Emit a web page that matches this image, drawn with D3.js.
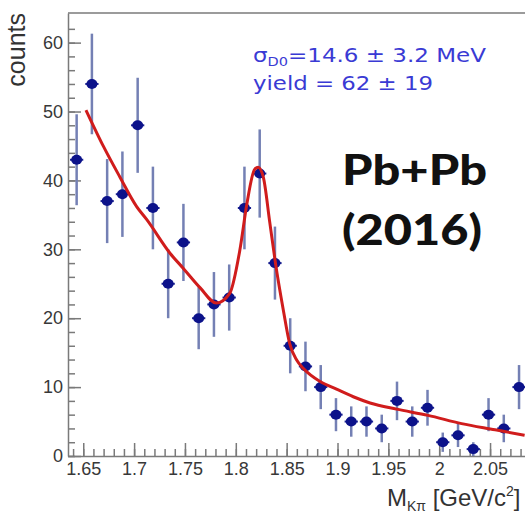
<!DOCTYPE html>
<html>
<head>
<meta charset="utf-8">
<script src="https://cdn.jsdelivr.net/npm/d3@7"></script>
<style>
  body { margin: 0; background: #fff; }
  svg { display: block; }
</style>
</head>
<body>
<svg id="chart"></svg>
<script>
// bin centres of the K-pi invariant mass histogram (GeV/c^2)
const massBins = [1.6435, 1.6585, 1.6735, 1.6885, 1.7035, 1.7185, 1.7335, 1.7485, 1.7635, 1.7785,
                  1.7935, 1.8085, 1.8235, 1.8385, 1.8535, 1.8685, 1.8835, 1.8985, 1.9135, 1.9285,
                  1.9435, 1.9585, 1.9735, 1.9885, 2.0035, 2.0185, 2.0335, 2.0485, 2.0635, 2.0785];
// counts per bin and their error bars
const counts = [43, 54, 37, 38, 48, 36, 25, 31, 20, 22,
                23, 36, 41, 28, 16, 13, 10, 6, 5, 5,
                4, 8, 5, 7, 2, 3, 1, 6, 4, 10];
const countErr = [6.6, 7.3, 6.1, 6.2, 6.9, 6.0, 5.0, 5.6, 4.5, 4.7,
                  4.8, 6.0, 6.4, 5.3, 4.0, 3.6, 3.2, 2.4, 2.2, 2.2,
                  2.0, 2.8, 2.2, 2.6, 1.4, 1.7, 1.0, 2.4, 2.0, 3.2];
const binWidth = 0.015;

// fit curve (background + gaussian)
const fitMass = [1.6527, 1.670, 1.686, 1.7025, 1.7125, 1.7355, 1.748, 1.765, 1.781, 1.794,
                 1.804, 1.811, 1.8185, 1.822, 1.827, 1.8335, 1.839, 1.8467, 1.853, 1.860,
                 1.8665, 1.883, 1.899, 1.9155, 1.932, 1.958, 1.989, 2.022, 2.055, 2.084];
const fitCounts = [50.2, 44.9, 40.5, 36.2, 34.3, 29.4, 27.3, 24.4, 22.2, 23.6,
                   29.9, 36.7, 41.6, 41.9, 40.5, 33.8, 28.0, 21.2, 16.3, 13.9,
                   12.7, 10.8, 9.7, 8.6, 7.7, 6.8, 5.9, 4.7, 3.8, 3.0];

// axis ticks
const xTickValues = [1.65, 1.7, 1.75, 1.8, 1.85, 1.9, 1.95, 2, 2.05];
const yTickValues = [0, 10, 20, 30, 40, 50, 60];

const svgWidth = 525, svgHeight = 513;
const plotLeft = 68, plotTop = 13, plotBottom = 456;

const svg = d3.select("#chart")
  .attr("width", svgWidth)
  .attr("height", svgHeight);

const x = d3.scaleLinear().domain([1.635, 2.1]).range([plotLeft, plotLeft + 0.465 * 1017]);
const y = d3.scaleLinear().domain([0, 64.3]).range([plotBottom, plotTop]);

const axisColor = "#7a7a7a";
const labelFont = "'Liberation Sans', Arial, sans-serif";

// frame (top line)
svg.append("line")
  .attr("x1", plotLeft).attr("x2", svgWidth + 20)
  .attr("y1", plotTop).attr("y2", plotTop)
  .attr("stroke", axisColor).attr("stroke-width", 1.5);

// minor ticks
svg.append("g")
  .attr("transform", "translate(0," + plotBottom + ")")
  .call(d3.axisBottom(x).tickValues(d3.range(1.64, 2.1, 0.01)).tickSizeInner(-7).tickSizeOuter(0).tickFormat(""))
  .call(g => g.selectAll("line").attr("stroke", axisColor).attr("stroke-width", 1.5))
  .call(g => g.select(".domain").remove());

svg.append("g")
  .attr("transform", "translate(" + plotLeft + ",0)")
  .call(d3.axisLeft(y).tickValues(d3.range(0, 64, 2)).tickSizeInner(-7).tickSizeOuter(0).tickFormat(""))
  .call(g => g.selectAll("line").attr("stroke", axisColor).attr("stroke-width", 1.5))
  .call(g => g.select(".domain").remove());

// major ticks + labels
const xAxis = svg.append("g")
  .attr("transform", "translate(0," + plotBottom + ")")
  .call(d3.axisBottom(x).tickValues(xTickValues).tickSizeInner(-13).tickSizeOuter(0)
    .tickPadding(6).tickFormat(d3.format("~g")));
xAxis.select(".domain").attr("stroke", axisColor).attr("stroke-width", 1.5);
xAxis.selectAll("line").attr("stroke", axisColor).attr("stroke-width", 1.5);
xAxis.selectAll("text").attr("font-family", labelFont).attr("font-size", 18).attr("fill", "#383838");

const yAxis = svg.append("g")
  .attr("transform", "translate(" + plotLeft + ",0)")
  .call(d3.axisLeft(y).tickValues(yTickValues).tickSizeInner(-13).tickSizeOuter(0).tickPadding(5));
yAxis.select(".domain").attr("stroke", axisColor).attr("stroke-width", 1.5);
yAxis.selectAll("line").attr("stroke", axisColor).attr("stroke-width", 1.5);
yAxis.selectAll("text").attr("font-family", labelFont).attr("font-size", 18).attr("fill", "#383838");

// y title
svg.append("text")
  .attr("transform", "translate(25," + 13 + ") rotate(-90)")
  .attr("text-anchor", "end")
  .attr("font-family", labelFont)
  .attr("font-size", 25)
  .attr("fill", "#333")
  .text("counts");

// x title
const xTitle = svg.append("text")
  .attr("x", 387).attr("y", 506)
  .attr("font-family", labelFont)
  .attr("font-size", 24)
  .attr("fill", "#333");
xTitle.append("tspan").text("M");
xTitle.append("tspan").attr("font-size", 14).attr("dy", 5).text("Kπ");
xTitle.append("tspan").attr("dy", -5).text(" [GeV/c");
xTitle.append("tspan").attr("font-size", 14).attr("dy", -10).text("2");
xTitle.append("tspan").attr("dy", 10).text("]");

// data points
const pts = svg.append("g");
const data = massBins.map((m, i) => ({ m: m, c: counts[i], e: countErr[i] }));

pts.selectAll(".ebar").data(data).enter().append("line")
  .attr("x1", d => x(d.m)).attr("x2", d => x(d.m))
  .attr("y1", d => y(d.c - d.e)).attr("y2", d => y(d.c + d.e))
  .attr("stroke", "#7480b4").attr("stroke-width", 2.5);

pts.selectAll(".xbar").data(data).enter().append("line")
  .attr("x1", d => x(d.m - binWidth / 2) + 1).attr("x2", d => x(d.m + binWidth / 2) - 1)
  .attr("y1", d => y(d.c)).attr("y2", d => y(d.c))
  .attr("stroke", "#1a2290").attr("stroke-width", 2);

pts.selectAll("ellipse").data(data).enter().append("ellipse")
  .attr("cx", d => x(d.m)).attr("cy", d => y(d.c))
  .attr("rx", 5.5).attr("ry", 5)
  .attr("fill", "#0c128a");

// fit curve
const fit = fitMass.map((m, i) => ({ m: m, c: fitCounts[i] }));
svg.append("path")
  .datum(fit)
  .attr("fill", "none")
  .attr("stroke", "#d01c1c")
  .attr("stroke-width", 3)
  .attr("stroke-linejoin", "round")
  .attr("d", d3.line().curve(d3.curveMonotoneX).x(d => x(d.m)).y(d => y(d.c)));

// fit result text
const blue = "#3a3ad4";
const t1 = svg.append("text")
  .attr("x", 253).attr("y", 62)
  .attr("font-family", "'DejaVu Sans', sans-serif")
  .attr("font-size", 19)
  .attr("fill", blue);
t1.append("tspan").text("σ");
t1.append("tspan").attr("font-size", 12).attr("dy", 4).text("D0");
t1.append("tspan").attr("dy", -4).text("=14.6 ± 3.2 MeV");
t1.attr("textLength", 233).attr("lengthAdjust", "spacingAndGlyphs");

svg.append("text")
  .attr("x", 253).attr("y", 90)
  .attr("font-family", "'DejaVu Sans', sans-serif")
  .attr("font-size", 19)
  .attr("fill", blue)
  .attr("textLength", 180).attr("lengthAdjust", "spacingAndGlyphs")
  .text("yield = 62 ± 19");

// collision system label
svg.append("text")
  .attr("x", 342).attr("y", 185)
  .attr("font-family", "Lato, sans-serif")
  .attr("font-weight", 900)
  .attr("font-size", 42)
  .attr("fill", "#111")
  .attr("textLength", 145).attr("lengthAdjust", "spacingAndGlyphs")
  .text("Pb+Pb");

svg.append("text")
  .attr("x", 342).attr("y", 245)
  .attr("font-family", "Lato, sans-serif")
  .attr("font-weight", 900)
  .attr("font-size", 42)
  .attr("fill", "#111")
  .attr("textLength", 140).attr("lengthAdjust", "spacingAndGlyphs")
  .text("(2016)");
</script>
</body>
</html>
